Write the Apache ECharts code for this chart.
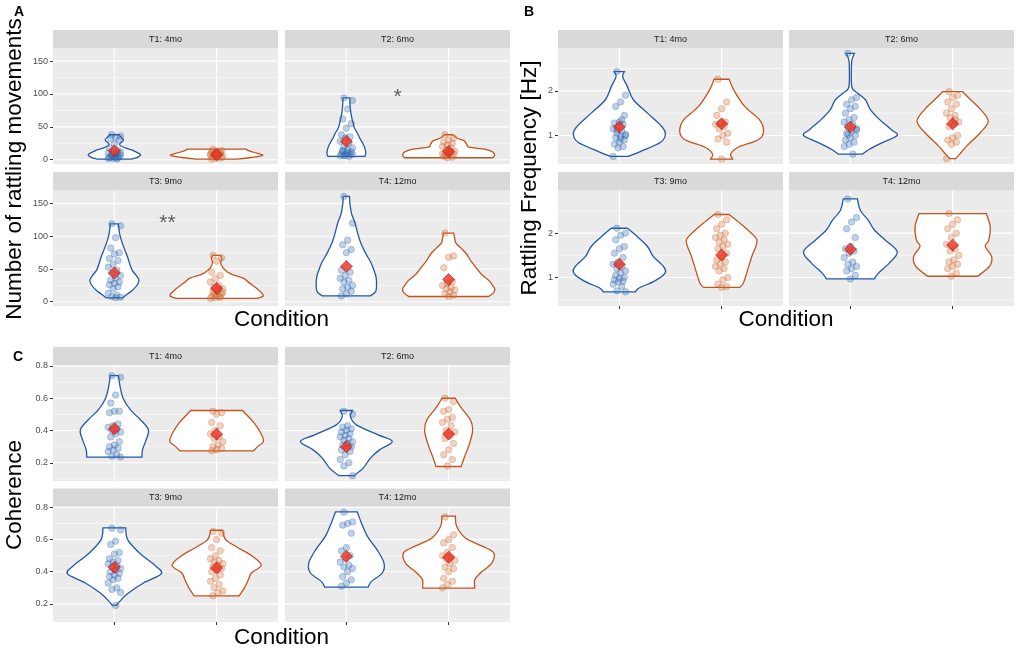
<!DOCTYPE html>
<html><head><meta charset="utf-8">
<script src="https://cdn.jsdelivr.net/npm/echarts@6/dist/echarts.min.js"></script>
<style>html,body{margin:0;padding:0;background:#fff}#c{width:1021px;height:652px}</style>
</head><body><div id="c"></div>
<script>
// ---------- data ----------
const FACETS = ['T1: 4mo', 'T2: 6mo', 'T3: 9mo', 'T4: 12mo'];
const CONDITION_POS = [1, 2];

// Panel A: number of rattling movements
const A_TICKS = [0, 50, 100, 150];
const A_MINOR = [25, 75, 125];
const A_VIOLIN_1 = [
  [[1,.17],[4,.23],[8,.255],[12,.21],[15,.17],[19,.09],[23,.05],[27,.07],[30,.09],[34,.07],[38,.045]],
  [[5,.18],[10,.19],[18,.18],[25,.16],[33,.13],[40,.11],[48,.08],[56,.065],[66,.05],[76,.04],[86,.035],[94,.033]],
  [[6,.08],[12,.13],[18,.18],[26,.225],[33,.24],[40,.215],[48,.175],[58,.15],[68,.13],[80,.1],[93,.07],[105,.05],[119,.04]],
  [[9,.235],[15,.285],[25,.295],[38,.29],[50,.265],[60,.24],[75,.185],[90,.14],[105,.11],[120,.085],[135,.05],[150,.035],[161,.03]]
];
const A_VIOLIN_2 = [
  [[1,.2],[3,.32],[6,.44],[8,.44],[11,.37],[14,.31],[16,.29]],
  [[3,.43],[7,.45],[12,.43],[16,.35],[19,.2],[24,.175],[29,.15],[33,.08],[38,.04]],
  [[5,.39],[8,.45],[12,.45],[18,.41],[24,.36],[30,.31],[36,.26],[41,.16],[45,.11],[52,.06],[60,.04],[65,.05],[71,.04]],
  [[8,.39],[14,.44],[20,.45],[27,.42],[33,.39],[42,.32],[53,.265],[63,.215],[73,.175],[82,.12],[90,.07],[97,.06],[105,.05]]
];
const A_POINTS_1 = [
  [38,36,34,32,30,24,18,14,12,10,9,8,7,6,5,5,4,3,3,2,2,1,8,11,4],
  [94,90,77,62,55,48,38,35,33,28,25,20,18,15,13,12,10,9,8,7,6,5,6,8,11,14],
  [119,116,98,82,75,73,66,63,57,53,48,44,40,36,33,30,28,26,23,20,13,10,8,7,6],
  [161,120,94,87,80,75,48,45,40,36,33,30,25,22,20,16,12,9]
];
const A_POINTS_2 = [
  [16,14,13,12,11,10,9,8,7,6,5,4,3,2,1,9,10,7],
  [38,33,30,27,25,22,20,18,15,13,12,10,8,7,5,4,3,9,11,6],
  [71,67,62,45,40,35,30,25,22,20,18,15,12,10,8,7,6,5,8,12,14,16],
  [105,70,68,52,31,28,25,22,20,18,15,12,10,8]
];
const A_MEAN_1 = [13.5, 28, 44, 54];
const A_MEAN_2 = [7.6, 12.6, 20.5, 34];
const A_SIGNIF = [[1, 1.5, 95, '*'], [2, 1.52, 120, '**']];

// Panel B: rattling frequency [Hz]
const B_TICKS = [1, 2];
const B_MINOR = [0.5, 1.5, 2.5];
const B_VIOLIN_1 = [
  [[0.53,.09],[0.65,.215],[0.84,.4],[1.02,.45],[1.2,.415],[1.5,.275],[1.8,.137],[2.1,.078],[2.32,.032],[2.43,.05]],
  [[0.58,.118],[0.69,.186],[0.84,.314],[1.0,.458],[1.13,.4],[1.36,.284],[1.58,.196],[1.8,.147],[1.95,.069],[2.05,.02],[2.2,.01],[2.5,.01],[2.69,.015],[2.84,.04]],
  [[0.68,.157],[0.77,.196],[0.92,.343],[1.1,.446],[1.25,.431],[1.47,.333],[1.7,.275],[1.92,.176],[2.11,.078]],
  [[0.97,.235],[1.1,.275],[1.33,.382],[1.58,.458],[1.84,.343],[2.07,.235],[2.29,.176],[2.51,.098],[2.77,.069]]
];
const B_VIOLIN_2 = [
  [[0.47,.108],[0.58,.088],[0.73,.157],[0.91,.363],[1.1,.41],[1.36,.368],[1.65,.225],[2.02,.118],[2.26,.074]],
  [[0.48,.03],[0.58,.069],[0.76,.137],[1.06,.27],[1.32,.348],[1.58,.275],[1.8,.176],[1.98,.098]],
  [[0.78,.176],[0.88,.213],[1.18,.255],[1.47,.294],[1.77,.343],[1.92,.324],[2.21,.186],[2.42,.074]],
  [[1.03,.245],[1.25,.36],[1.47,.382],[1.7,.319],[1.84,.353],[2.14,.368],[2.44,.33]]
];
const B_POINTS_1 = [
  [2.43,1.9,1.75,1.65,1.45,1.3,1.28,1.25,1.2,1.15,1.1,1.05,1.0,0.98,0.95,0.9,0.85,0.8,0.75,0.72,0.53,1.35,1.12,1.02,0.92],
  [2.84,1.85,1.8,1.7,1.65,1.6,1.5,1.4,1.35,1.3,1.25,1.2,1.15,1.1,1.05,1.0,0.95,0.9,0.85,0.8,0.75,0.58,1.02,1.12],
  [2.11,2.0,1.95,1.85,1.7,1.65,1.55,1.45,1.35,1.3,1.25,1.2,1.15,1.1,1.05,1.0,0.98,0.95,0.92,0.9,0.85,0.8,0.7,0.68],
  [2.77,2.35,2.25,2.1,1.9,1.7,1.65,1.6,1.55,1.45,1.35,1.3,1.25,1.2,1.15,1.05,0.97]
];
const B_POINTS_2 = [
  [2.26,1.75,1.6,1.45,1.3,1.28,1.25,1.2,1.15,1.05,1.0,0.92,0.85,0.47],
  [1.98,1.9,1.85,1.75,1.7,1.6,1.5,1.45,1.4,1.3,1.25,1.2,1.0,0.95,0.9,0.85,0.8,0.48,1.35],
  [2.42,2.3,2.2,2.1,2.0,1.95,1.9,1.85,1.8,1.75,1.7,1.65,1.55,1.45,1.4,1.35,1.3,1.25,1.2,1.15,1.0,0.95,0.85,0.8,0.78],
  [2.44,2.3,2.2,2.1,2.0,1.9,1.75,1.65,1.6,1.5,1.4,1.35,1.3,1.25,1.2,1.1,1.03]
];
const B_MEAN_1 = [1.19, 1.19, 1.3, 1.64];
const B_MEAN_2 = [1.26, 1.26, 1.51, 1.73];
const B_SIGNIF = [];

// Panel C: coherence
const C_TICKS = [0.2, 0.4, 0.6, 0.8];
const C_MINOR = [0.1, 0.3, 0.5, 0.7];
const C_VIOLIN_1 = [
  [[0.235,.27],[0.28,.275],[0.342,.31],[0.404,.333],[0.467,.255],[0.528,.157],[0.6,.085],[0.672,.056],[0.74,.04]],
  [[0.12,.074],[0.167,.164],[0.229,.235],[0.28,.324],[0.332,.449],[0.373,.31],[0.435,.098],[0.487,.04],[0.524,.06]],
  [[0.19,.02],[0.214,.05],[0.267,.137],[0.33,.284],[0.386,.458],[0.433,.409],[0.517,.245],[0.6,.13],[0.673,.111]],
  [[0.304,.213],[0.34,.245],[0.392,.351],[0.454,.368],[0.538,.299],[0.62,.206],[0.704,.147],[0.773,.106]]
];
const C_VIOLIN_2 = [
  [[0.274,.36],[0.3,.4],[0.332,.458],[0.384,.431],[0.446,.368],[0.524,.253]],
  [[0.177,.123],[0.239,.157],[0.322,.206],[0.404,.235],[0.466,.213],[0.548,.115],[0.6,.066]],
  [[0.25,.22],[0.298,.27],[0.35,.31],[0.392,.34],[0.44,.436],[0.496,.351],[0.548,.213],[0.6,.088],[0.658,.059]],
  [[0.298,.255],[0.35,.255],[0.392,.311],[0.454,.422],[0.517,.441],[0.558,.333],[0.61,.164],[0.683,.078],[0.746,.066]]
];
const C_POINTS_1 = [
  [0.74,0.73,0.62,0.57,0.52,0.52,0.51,0.44,0.43,0.42,0.41,0.4,0.39,0.38,0.36,0.33,0.31,0.3,0.29,0.28,0.27,0.25,0.24,0.235],
  [0.52,0.5,0.43,0.42,0.41,0.4,0.39,0.38,0.37,0.36,0.35,0.34,0.33,0.32,0.31,0.3,0.29,0.28,0.27,0.25,0.22,0.2,0.18,0.12],
  [0.67,0.66,0.59,0.57,0.52,0.51,0.48,0.47,0.46,0.45,0.44,0.43,0.42,0.41,0.4,0.39,0.38,0.37,0.36,0.35,0.33,0.3,0.29,0.27,0.19],
  [0.77,0.71,0.7,0.69,0.64,0.55,0.53,0.5,0.48,0.46,0.44,0.43,0.42,0.4,0.37,0.35,0.33,0.31]
];
const C_POINTS_2 = [
  [0.52,0.51,0.5,0.45,0.43,0.4,0.38,0.36,0.35,0.33,0.31,0.3,0.29,0.28,0.275],
  [0.6,0.58,0.53,0.52,0.48,0.47,0.45,0.43,0.4,0.39,0.37,0.35,0.32,0.28,0.25,0.22,0.18],
  [0.65,0.64,0.6,0.55,0.53,0.5,0.48,0.47,0.46,0.45,0.44,0.43,0.42,0.41,0.4,0.38,0.36,0.34,0.32,0.3,0.28,0.27,0.25],
  [0.74,0.63,0.6,0.58,0.55,0.52,0.5,0.49,0.48,0.47,0.45,0.43,0.42,0.4,0.36,0.34,0.32,0.3]
];
const C_MEAN_1 = [0.41, 0.30, 0.427, 0.496];
const C_MEAN_2 = [0.377, 0.378, 0.423, 0.49];
const C_SIGNIF = [];

// ---------- styling / layout ----------
const FONT = '"Liberation Sans", Arial, sans-serif';
const COL1 = '#2158A6', COL2 = '#C3531C';
const PT1 = 'rgba(55,112,182,0.40)', PT1B = 'rgba(40,90,160,0.55)';
const PT2 = 'rgba(212,112,55,0.40)', PT2B = 'rgba(190,90,40,0.55)';

const PANELS = [
  { label:'A', title:'Number of rattling movements', ticks:A_TICKS, minor:A_MINOR, min:-6.5, max:170,
    v:[A_VIOLIN_1,A_VIOLIN_2], p:[A_POINTS_1,A_POINTS_2], m:[A_MEAN_1,A_MEAN_2], sig:A_SIGNIF,
    cols:[[53,225],[285,225]], rows:[[30,48,164],[172,190.5,306]],
    labelPos:[19,12.5], titlePos:[15,169], condPos:[281.5,320] },
  { label:'B', title:'Rattling Frequency [Hz]', ticks:B_TICKS, minor:B_MINOR, min:0.36, max:2.96,
    v:[B_VIOLIN_1,B_VIOLIN_2], p:[B_POINTS_1,B_POINTS_2], m:[B_MEAN_1,B_MEAN_2], sig:B_SIGNIF,
    cols:[[558,225],[789,225]], rows:[[30,48,164],[172,190.5,306]],
    labelPos:[529,12.5], titlePos:[530,178], condPos:[786,320] },
  { label:'C', title:'Coherence', ticks:C_TICKS, minor:C_MINOR, min:0.087, max:0.806,
    v:[C_VIOLIN_1,C_VIOLIN_2], p:[C_POINTS_1,C_POINTS_2], m:[C_MEAN_1,C_MEAN_2], sig:C_SIGNIF,
    cols:[[53,225],[285,225]], rows:[[347,365,481],[488.5,506.5,622]],
    labelPos:[18,357], titlePos:[15,495], condPos:[281.5,638] }
];

function jitter(i) { return (((i * 7 + 3) % 11) / 10 - 0.5) * 0.12; }

function spline(pts) {
  let s = '';
  for (let i = 0; i < pts.length - 1; i++) {
    const p0 = pts[Math.max(i - 1, 0)], p1 = pts[i], p2 = pts[i + 1], p3 = pts[Math.min(i + 2, pts.length - 1)];
    const c1 = [p1[0] + (p2[0] - p0[0]) / 6, p1[1] + (p2[1] - p0[1]) / 6];
    const c2 = [p2[0] - (p3[0] - p1[0]) / 6, p2[1] - (p3[1] - p1[1]) / 6];
    s += ' C' + c1[0] + ' ' + c1[1] + ' ' + c2[0] + ' ' + c2[1] + ' ' + p2[0] + ' ' + p2[1];
  }
  return s;
}
function violinPath(api, center, prof) {
  const right = prof.map(d => api.coord([center + d[1], d[0]]));
  const left = prof.map(d => api.coord([center - d[1], d[0]])).reverse();
  return 'M' + right[0][0] + ' ' + right[0][1] + spline(right) +
         ' L' + left[0][0] + ' ' + left[0][1] + spline(left) + ' Z';
}

const grids = [], xAxes = [], yAxes = [], series = [], graphics = [];
const txt = (x, y, text, font, fill, extra) => Object.assign({
  type:'text', x, y, silent:true,
  style:{ text, font, fill, textAlign:'center', textVerticalAlign:'middle', align:'center', verticalAlign:'middle' }
}, extra || {});

PANELS.forEach(P => {
  graphics.push(txt(P.labelPos[0], P.labelPos[1], P.label, 'bold 14px ' + FONT, '#000'));
  graphics.push(txt(P.titlePos[0], P.titlePos[1], P.title, '22.5px ' + FONT, '#000', { rotation: Math.PI / 2 }));
  graphics.push(txt(P.condPos[0], P.condPos[1], 'Condition', '22.5px ' + FONT, '#000'));
  for (let f = 0; f < 4; f++) {
    const row = Math.floor(f / 2), col = f % 2;
    const [x, w] = P.cols[col];
    const [st, top, bot] = P.rows[row];
    const g = grids.length;
    grids.push({ left:x, top:top, width:w, height:bot - top, show:true, backgroundColor:'#EBEBEB',
                 borderWidth:0, containLabel:false, outerBoundsMode:'none' });
    graphics.push({ type:'rect', silent:true, shape:{ x:x, y:st, width:w, height:top - st }, style:{ fill:'#D9D9D9' } });
    graphics.push(txt(x + w / 2, (st + top) / 2 + 0.5, FACETS[f], '9px ' + FONT, '#1A1A1A'));

    xAxes.push({ gridIndex:g, type:'value', min:0.4, max:2.6, splitLine:{show:false}, axisLine:{show:false},
      axisLabel:{show:false},
      axisTick:{ show: row === 1, customValues: CONDITION_POS, length:3, lineStyle:{color:'#333', width:1} } });
    yAxes.push({ gridIndex:g, type:'value', min:P.min, max:P.max, splitLine:{show:false}, axisLine:{show:false},
      axisTick:{ show: col === 0, customValues: P.ticks, length:3, lineStyle:{color:'#333', width:1} },
      axisLabel:{ show: col === 0, customValues: P.ticks, color:'#4D4D4D', fontSize:9, fontFamily:FONT, margin:5 } });

    // gridlines
    series.push({ type:'custom', xAxisIndex:g, yAxisIndex:g, z:1, silent:true, data:[[1.5, P.ticks[0]]],
      renderItem: (params, api) => {
        const cs = params.coordSys, ch = [];
        P.minor.forEach(v => { const y = api.coord([1, v])[1];
          ch.push({ type:'line', shape:{x1:cs.x, y1:y, x2:cs.x + cs.width, y2:y}, style:{stroke:'#FFFFFF', lineWidth:0.55} }); });
        P.ticks.forEach(v => { const y = api.coord([1, v])[1];
          ch.push({ type:'line', shape:{x1:cs.x, y1:y, x2:cs.x + cs.width, y2:y}, style:{stroke:'#FFFFFF', lineWidth:1.1} }); });
        CONDITION_POS.forEach(c => { const xx = api.coord([c, P.min])[0];
          ch.push({ type:'line', shape:{x1:xx, y1:cs.y, x2:xx, y2:cs.y + cs.height}, style:{stroke:'#FFFFFF', lineWidth:1.1} }); });
        return { type:'group', children:ch };
      } });

    // violins
    series.push({ type:'custom', xAxisIndex:g, yAxisIndex:g, z:2, silent:true,
      data:[[CONDITION_POS[0], P.m[0][f]], [CONDITION_POS[1], P.m[1][f]]],
      renderItem: (params, api) => {
        const k = params.dataIndex;
        return { type:'path', shape:{ pathData: violinPath(api, CONDITION_POS[k], P.v[k][f]) },
                 style:{ fill:'#FFFFFF', stroke: k === 0 ? COL1 : COL2, lineWidth:1.3 } };
      } });

    // jittered points
    [0, 1].forEach(k => {
      series.push({ type:'scatter', xAxisIndex:g, yAxisIndex:g, z:3, silent:true, symbol:'circle', symbolSize:6.5,
        itemStyle:{ color: k === 0 ? PT1 : PT2, borderColor: k === 0 ? PT1B : PT2B, borderWidth:0.6 },
        data: P.p[k][f].map((v, i) => [CONDITION_POS[k] + jitter(i + k * 3), v]) });
    });

    // means
    series.push({ type:'scatter', xAxisIndex:g, yAxisIndex:g, z:4, silent:true, symbol:'diamond', symbolSize:12,
      itemStyle:{ color:'#EE2E1F', borderColor:'#8E1810', borderWidth:0.7 },
      data:[[CONDITION_POS[0], P.m[0][f]], [CONDITION_POS[1], P.m[1][f]]] });

    // significance marks
    const sig = P.sig.filter(s => s[0] === f);
    if (sig.length) {
      series.push({ type:'scatter', xAxisIndex:g, yAxisIndex:g, z:5, silent:true, symbolSize:0,
        data: sig.map(s => ({ value:[s[1], s[2]], name:s[3] })),
        label:{ show:true, position:'inside', formatter:'{b}', fontSize:21, color:'#3A3A3A', fontFamily:FONT } });
    }
  }
});

const chart = echarts.init(document.getElementById('c'), null, { renderer:'canvas' });
chart.setOption({
  animation:false,
  backgroundColor:'#FFFFFF',
  textStyle:{ fontFamily:FONT },
  grid:grids, xAxis:xAxes, yAxis:yAxes, series:series, graphic:graphics
});
</script></body></html>
